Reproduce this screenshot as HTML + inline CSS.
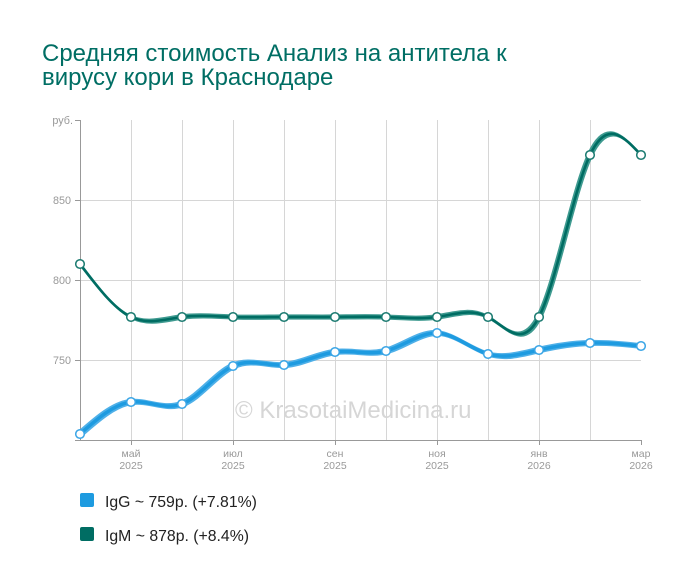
<!DOCTYPE html>
<html><head><meta charset="utf-8"><style>
html,body{margin:0;padding:0;background:#fff;}
svg{display:block;}
</style></head><body>
<svg width="700" height="583" viewBox="0 0 700 583" xmlns="http://www.w3.org/2000/svg" font-family="'Liberation Sans', Arial, sans-serif">
<rect width="700" height="583" fill="#fff"/>
<text x="42" y="61" font-size="24" fill="#006e64">Средняя стоимость Анализ на антитела к</text>
<text x="42" y="85" font-size="24" fill="#006e64">вирусу кори в Краснодаре</text>

<g stroke="#d6d6d6" stroke-width="1">
<line x1="80" y1="200.5" x2="641" y2="200.5"/>
<line x1="80" y1="280.5" x2="641" y2="280.5"/>
<line x1="80" y1="360.5" x2="641" y2="360.5"/>
<line x1="131.5" y1="120" x2="131.5" y2="440"/>
<line x1="182.5" y1="120" x2="182.5" y2="440"/>
<line x1="233.5" y1="120" x2="233.5" y2="440"/>
<line x1="284.5" y1="120" x2="284.5" y2="440"/>
<line x1="335.5" y1="120" x2="335.5" y2="440"/>
<line x1="386.5" y1="120" x2="386.5" y2="440"/>
<line x1="437.5" y1="120" x2="437.5" y2="440"/>
<line x1="488.5" y1="120" x2="488.5" y2="440"/>
<line x1="539.5" y1="120" x2="539.5" y2="440"/>
<line x1="590.5" y1="120" x2="590.5" y2="440"/>
</g>
<g stroke="#999" stroke-width="1">
<line x1="80.5" y1="120" x2="80.5" y2="440"/>
<line x1="75" y1="440.5" x2="641" y2="440.5"/>
<line x1="75" y1="120.5" x2="80" y2="120.5"/>
<line x1="75" y1="200.5" x2="80" y2="200.5"/>
<line x1="75" y1="280.5" x2="80" y2="280.5"/>
<line x1="75" y1="360.5" x2="80" y2="360.5"/>
<line x1="131.5" y1="440" x2="131.5" y2="445"/>
<line x1="233.5" y1="440" x2="233.5" y2="445"/>
<line x1="335.5" y1="440" x2="335.5" y2="445"/>
<line x1="437.5" y1="440" x2="437.5" y2="445"/>
<line x1="539.5" y1="440" x2="539.5" y2="445"/>
<line x1="641.5" y1="440" x2="641.5" y2="445"/>
</g>
<g font-size="10.8" fill="#999" text-anchor="end">
<text x="73" y="124">руб.</text>
<text x="71" y="204">850</text>
<text x="71" y="284">800</text>
<text x="71" y="364">750</text>
</g>
<g font-size="10.5" fill="#999" text-anchor="middle">
<text x="131" y="457">май</text><text x="131" y="469">2025</text>
<text x="233" y="457">июл</text><text x="233" y="469">2025</text>
<text x="335" y="457">сен</text><text x="335" y="469">2025</text>
<text x="437" y="457">ноя</text><text x="437" y="469">2025</text>
<text x="539" y="457">янв</text><text x="539" y="469">2026</text>
<text x="641" y="457">мар</text><text x="641" y="469">2026</text>
</g>

<text x="235" y="418" font-size="24" fill="#d6d6d6">© KrasotaiMedicina.ru</text>

<defs>
<path id="igg" d="M80,434 C97,419.07 114,404.15 131,402 C148,399.86 165,410.49 182,404 C199,397.51 216,373.88 233,366 C250,358.12 267,365.99 284,365 C301,364.01 318,354.17 335,352 C352,349.84 369,355.35 386,351 C403,346.65 420,332.43 437,333 C454,333.57 471,348.92 488,354 C505,359.09 522,353.91 539,350 C556,346.09 573,343.46 590,343 C607,342.55 624,344.27 641,346" fill="none" stroke-linecap="round" stroke-linejoin="round"/>
<path id="igm" d="M80,264 C97,286.40 114,308.80 131,317 C148,325.20 165,319.19 182,317 C199,314.81 216,316.42 233,317 C250,317.58 267,317.11 284,317 C301,316.89 318,317.13 335,317 C352,316.87 369,316.37 386,317 C403,317.63 420,319.41 437,317 C454,314.59 471,308.00 488,317 C505,326.00 522,350.58 539,317 C556,283.42 573,191.69 590,155 C607,118.31 624,136.65 641,155" fill="none" stroke-linecap="round" stroke-linejoin="round"/>
</defs>

<g stroke="#4fb0e8" stroke-width="3">
<use href="#igg" transform="translate(-1.5,-1.5)"/>
<use href="#igg" transform="translate(-0.75,-0.75)"/>
<use href="#igg" transform="translate(0.75,0.75)"/>
<use href="#igg" transform="translate(1.5,1.5)"/>
</g>
<use href="#igg" stroke="#1e9be0" stroke-width="3.5"/>

<g stroke="#3f9a90" stroke-width="2.2">
<use href="#igm" transform="translate(-1.5,-1.5)"/>
<use href="#igm" transform="translate(-0.75,-0.75)"/>
<use href="#igm" transform="translate(0.75,0.75)"/>
<use href="#igm" transform="translate(1.5,1.5)"/>
</g>
<use href="#igm" stroke="#006d63" stroke-width="2.6"/>

<g fill="#fff" stroke="#3aa5e6" stroke-width="1.5">
<circle cx="80" cy="434" r="4.3"/>
<circle cx="131" cy="402" r="4.3"/>
<circle cx="182" cy="404" r="4.3"/>
<circle cx="233" cy="366" r="4.3"/>
<circle cx="284" cy="365" r="4.3"/>
<circle cx="335" cy="352" r="4.3"/>
<circle cx="386" cy="351" r="4.3"/>
<circle cx="437" cy="333" r="4.3"/>
<circle cx="488" cy="354" r="4.3"/>
<circle cx="539" cy="350" r="4.3"/>
<circle cx="590" cy="343" r="4.3"/>
<circle cx="641" cy="346" r="4.3"/>
</g>
<g fill="#fff" stroke="#1a7a70" stroke-width="1.5">
<circle cx="80" cy="264" r="4.3"/>
<circle cx="131" cy="317" r="4.3"/>
<circle cx="182" cy="317" r="4.3"/>
<circle cx="233" cy="317" r="4.3"/>
<circle cx="284" cy="317" r="4.3"/>
<circle cx="335" cy="317" r="4.3"/>
<circle cx="386" cy="317" r="4.3"/>
<circle cx="437" cy="317" r="4.3"/>
<circle cx="488" cy="317" r="4.3"/>
<circle cx="539" cy="317" r="4.3"/>
<circle cx="590" cy="155" r="4.3"/>
<circle cx="641" cy="155" r="4.3"/>
</g>

<rect x="80" y="493" width="14" height="14" rx="2" fill="#1e9be0"/>
<text x="105" y="507" font-size="15.8" fill="#222">IgG ~ 759р. (+7.81%)</text>
<rect x="80" y="527" width="14" height="14" rx="2" fill="#006d63"/>
<text x="105" y="541" font-size="15.8" fill="#222">IgM ~ 878р. (+8.4%)</text>
</svg>
</body></html>
